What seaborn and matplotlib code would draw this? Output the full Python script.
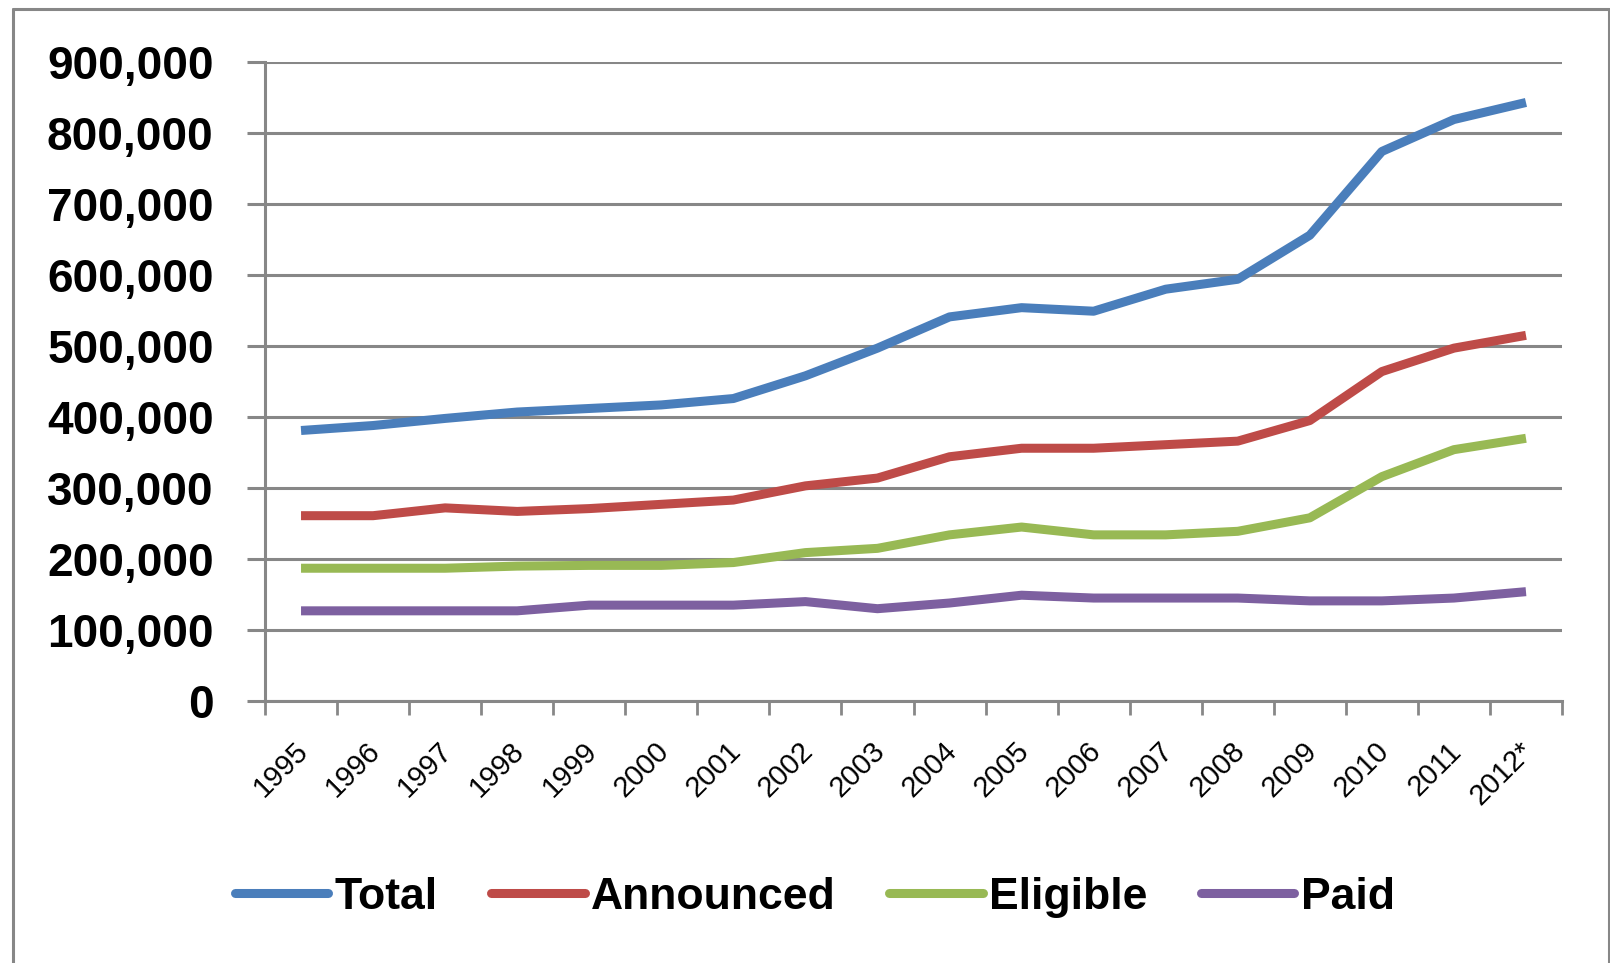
import matplotlib
matplotlib.use("Agg")
import matplotlib.pyplot as plt
import matplotlib.transforms as mtransforms
import seaborn as sns
import pandas as pd
from matplotlib.lines import Line2D
from matplotlib.ticker import FuncFormatter, FixedLocator

years = ["1995", "1996", "1997", "1998", "1999", "2000", "2001", "2002", "2003",
         "2004", "2005", "2006", "2007", "2008", "2009", "2010", "2011", "2012*"]
total = [381000, 388000, 398000, 407000, 412000, 417000, 426000, 458000, 497000,
         541000, 554000, 549000, 580000, 594000, 656000, 774000, 819000, 843000]
announced = [261000, 261000, 272000, 267000, 271000, 277000, 283000, 303000, 314000,
             344000, 356000, 356000, 361000, 366000, 395000, 464000, 497000, 515000]
eligible = [187000, 187000, 187000, 190000, 191000, 191000, 195000, 209000, 215000,
            234000, 245000, 234000, 234000, 239000, 258000, 316000, 354000, 370000]
paid = [127000, 127000, 127000, 127000, 135000, 135000, 135000, 140000, 130000,
        138000, 149000, 145000, 145000, 145000, 141000, 141000, 145000, 154000]
series_names = ["Total", "Announced", "Eligible", "Paid"]
colors = ["#4A7EBB", "#BE4B48", "#98B954", "#7D60A0"]

rows = []
for name, vals in zip(series_names, [total, announced, eligible, paid]):
    for i, (y, v) in enumerate(zip(years, vals)):
        rows.append({"idx": i, "year": y, "value": v, "series": name})
df = pd.DataFrame(rows)

sns.set_style("white")
plt.rcParams["font.family"] = ["Liberation Sans", "DejaVu Sans"]
plt.rcParams["text.color"] = "black"

W, H = 1610, 963
fig = plt.figure(figsize=(W / 100, H / 100), dpi=100)
ax = fig.add_axes([265 / W, 1 - 701 / H, (1562 - 265) / W, (701 - 62) / H])

grid_c = "#878787"
sns.lineplot(data=df, x="idx", y="value", hue="series", hue_order=series_names,
             palette=colors, linewidth=6.5, ax=ax, legend=False, zorder=3,
             solid_capstyle="butt")

ax.set_xlim(-0.5, len(years) - 0.5)
ax.set_ylim(0, 900000)
ax.set_xlabel("")
ax.set_ylabel("")

ax.yaxis.set_major_locator(FixedLocator(list(range(0, 900001, 100000))))
ax.yaxis.set_major_formatter(FuncFormatter(lambda v, p: f"{int(v):,}"))
ax.grid(axis="y", color=grid_c, linewidth=2.2, zorder=1)
ax.grid(axis="x", visible=False)

ax.set_xticks(range(len(years)))
ax.set_xticklabels(years, rotation=45, ha="right", va="center", rotation_mode="anchor",
                   fontsize=21, color="black")
ax.set_xticks([i - 0.5 for i in range(len(years) + 1)], minor=True)
ax.tick_params(axis="x", which="major", length=0, pad=33, labelcolor="black")
ax.tick_params(axis="x", which="minor", length=10, width=2, color=grid_c, direction="out")
ax.tick_params(axis="y", which="major", length=13, width=2.2, color=grid_c,
               direction="out", pad=24, labelsize=33, labelcolor="black")
for lbl in ax.get_yticklabels():
    lbl.set_fontweight("bold")
ax.tick_params(left=True, bottom=True)
ax.xaxis.set_tick_params(which="minor", bottom=True)

shift = mtransforms.ScaledTranslation(3 / 100, 0, fig.dpi_scale_trans)
for lbl in ax.get_xticklabels():
    lbl.set_transform(lbl.get_transform() + shift)

for s in ["top", "right"]:
    ax.spines[s].set_visible(False)
for s in ["left", "bottom"]:
    ax.spines[s].set_visible(True)
    ax.spines[s].set_color(grid_c)
    ax.spines[s].set_linewidth(2.2)

# outer chart frame
frame_kw = dict(color=grid_c, linewidth=2.2, transform=fig.transFigure)
fig.add_artist(Line2D([12.5 / W, 12.5 / W], [0, 1 - 9 / H], **frame_kw))
fig.add_artist(Line2D([12.5 / W, 1608.5 / W], [1 - 9 / H, 1 - 9 / H], **frame_kw))
fig.add_artist(Line2D([1608.5 / W, 1608.5 / W], [0, 1 - 9 / H], **frame_kw))

handles = [Line2D([0], [0], color=c, linewidth=6.5) for c in colors]
fig.legend(handles, series_names, loc="center", bbox_to_anchor=(815 / W, 1 - 897 / H),
           ncol=4, frameon=False, handlelength=2.1, handletextpad=0.15,
           columnspacing=1.2, prop={"size": 32, "weight": "bold"})

fig.savefig("out.png", dpi=100, facecolor="white")
